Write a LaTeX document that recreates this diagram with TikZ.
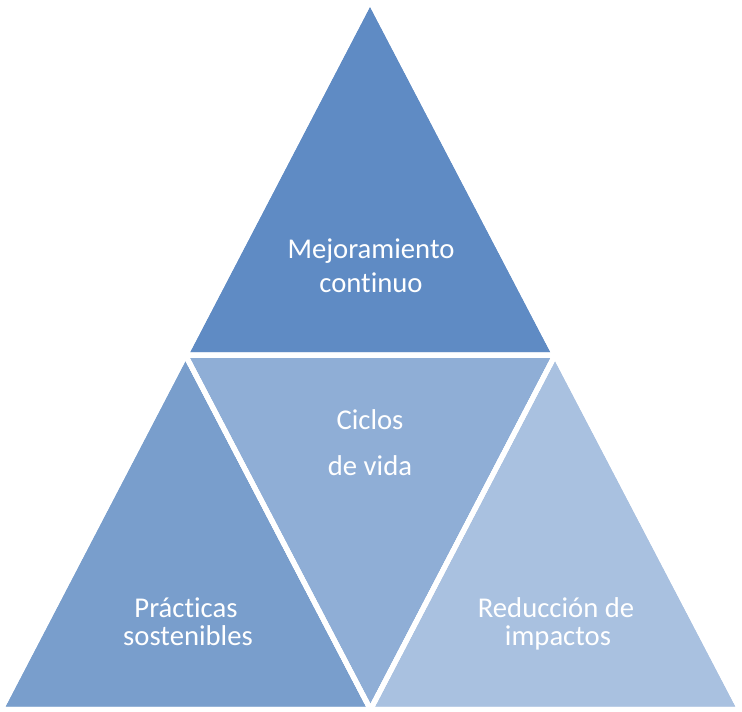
\documentclass[tikz,border=0pt]{standalone}
\usepackage{fontspec}
\setmainfont{Carlito}[Ligatures=NoCommon]
\usetikzlibrary{calc}
\definecolor{ctop}{RGB}{95,139,196}
\definecolor{cleft}{RGB}{121,158,204}
\definecolor{cmid}{RGB}{143,174,214}
\definecolor{cright}{RGB}{169,193,224}
\begin{document}
\begin{tikzpicture}[x=0.75pt,y=-0.75pt,
  tri/.style={draw=white,line width=3.8pt,line join=miter},
  lbl/.style={text=white,font=\fontsize{21.5}{26}\selectfont,anchor=base,inner sep=0pt}]
\useasboundingbox (0,0) rectangle (742,712);
\coordinate (A) at (370,1);
\coordinate (B) at (1,709.5);
\coordinate (C) at (740,709.5);
\coordinate (AB) at ($(A)!0.5!(B)$);
\coordinate (AC) at ($(A)!0.5!(C)$);
\coordinate (BC) at ($(B)!0.5!(C)$);
\fill[ctop,tri] (A) -- (AB) -- (AC) -- cycle;
\fill[cleft,tri] (AB) -- (B) -- (BC) -- cycle;
\fill[cmid,tri] (AB) -- (AC) -- (BC) -- cycle;
\fill[cright,tri] (AC) -- (BC) -- (C) -- cycle;
\draw[tri] (A) -- (AB) -- (AC) -- cycle;
\draw[tri] (AB) -- (B) -- (BC) -- cycle;
\draw[tri] (AB) -- (AC) -- (BC) -- cycle;
\draw[tri] (AC) -- (BC) -- (C) -- cycle;
\node[lbl] (t1) at (371,259) {Mejoramiento};
\node[lbl] (t2) at (371,293) {continuo};
\node[lbl] (m1) at (370,430) {Ciclos};
\node[lbl] (m2) at (370,475) {de vida};
\node[lbl] (l1) at (186,617) {Prácticas};
\node[lbl] (l2) at (188,645) {sostenibles};
\node[lbl] (r1) at (556,617) {Reducción de};
\node[lbl] (r2) at (558,645) {impactos};
\end{tikzpicture}
\end{document}
